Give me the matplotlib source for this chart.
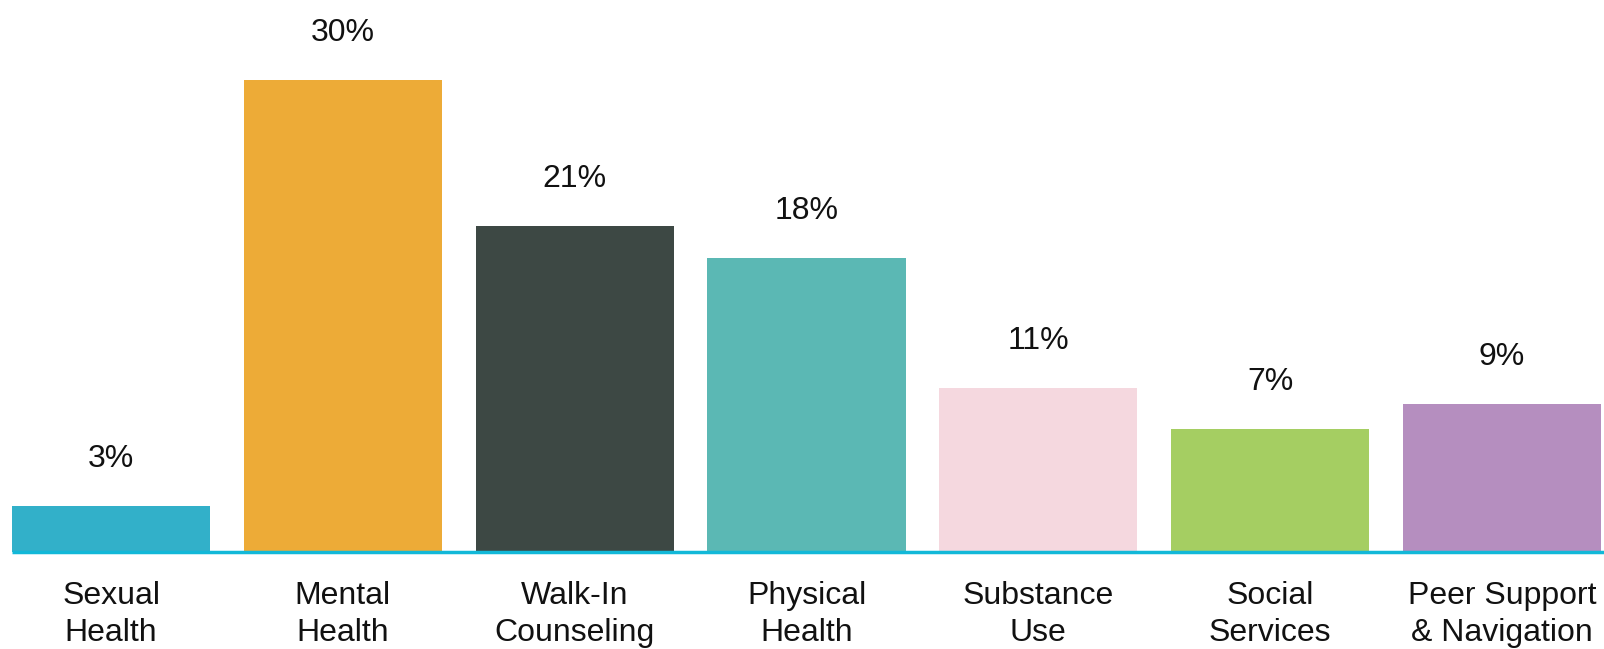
import matplotlib.pyplot as plt

# data
categories = ["Sexual\nHealth", "Mental\nHealth", "Walk-In\nCounseling", "Physical\nHealth",
              "Substance\nUse", "Social\nServices", "Peer Support\n& Navigation"]
values = [2.9, 30.0, 20.7, 18.7, 10.4, 7.8, 9.4]
value_labels = ["3%", "30%", "21%", "18%", "11%", "7%", "9%"]
colors = ["#32B0C9", "#EDAB37", "#3D4844", "#5BB8B4", "#F5D8DF", "#A5CE62", "#B58EBF"]

plt.rcParams['font.family'] = ['Liberation Sans', 'DejaVu Sans']

fig = plt.figure(figsize=(16.04, 6.49), dpi=100)
ax = fig.add_axes([0, 97 / 649, 1, 552 / 649])

width = 0.855
x = range(len(values))
ax.bar(x, values, width=width, color=colors)

ax.set_xlim(-width / 2 - 12 / 231.7, len(values) - 1 + width / 2 + 3 / 231.7)
ax.set_ylim(0, 35.1)
ax.hlines(0, -width / 2, len(values), color="#12B8D8", linewidth=2.5, zorder=3, clip_on=False)

for i, (v, lab) in enumerate(zip(values, value_labels)):
    ax.annotate(lab, (i, v), xytext=(0, 34), textcoords="offset points",
                ha="center", va="center", fontsize=23, color="#111111")
    ax.annotate(categories[i], (i, 0), xytext=(0, -45), textcoords="offset points",
                ha="center", va="center", fontsize=23, color="#111111",
                linespacing=1.3, annotation_clip=False)

ax.axis("off")
fig.savefig("out.png", dpi=100)
plt.close()
